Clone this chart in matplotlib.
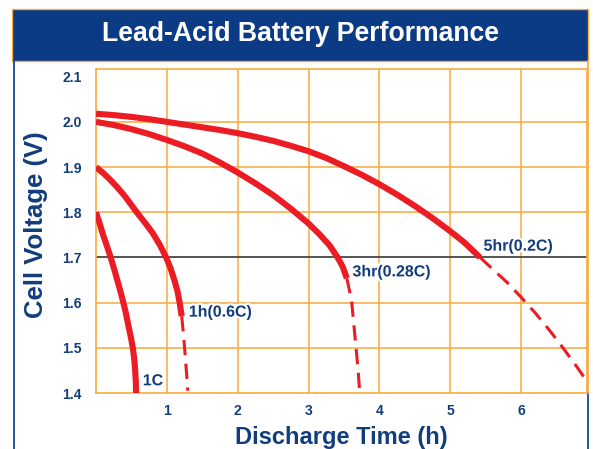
import matplotlib
matplotlib.use("Agg")
import matplotlib.pyplot as plt
from matplotlib.patches import Rectangle
from matplotlib.lines import Line2D
import matplotlib.patheffects as pe

plt.rcParams['font.family'] = ['Liberation Sans', 'DejaVu Sans']

# ---- data ----
title = "Lead-Acid Battery Performance"
x_label = "Discharge Time (h)"
y_label = "Cell Voltage (V)"
x_ticks = [1, 2, 3, 4, 5, 6]
y_ticks = [1.4, 1.5, 1.6, 1.7, 1.8, 1.9, 2.0, 2.1]
h_grid = [1.5, 1.6, 1.8, 1.9, 2.0]
cutoff_v = 1.7

c1_x = [0, 0.05, 0.1, 0.155, 0.207, 0.255, 0.3, 0.345, 0.386, 0.42, 0.456, 0.49,
        0.52, 0.54, 0.553, 0.562, 0.566]
c1_y = [1.8, 1.776, 1.75, 1.725, 1.7, 1.675, 1.65, 1.625, 1.6, 1.578, 1.55, 1.525,
        1.5, 1.475, 1.45, 1.425, 1.4]

h1_x = [0, 0.1, 0.2, 0.29, 0.4, 0.5, 0.575, 0.7, 0.8, 0.9, 0.99, 1.05, 1.106, 1.15, 1.18, 1.21]
h1_y = [1.9, 1.887, 1.872, 1.857, 1.837, 1.816, 1.8, 1.775, 1.754, 1.728, 1.70, 1.677,
        1.65, 1.625, 1.60, 1.57]
h1_dx = [1.21, 1.24, 1.265, 1.28, 1.295]
h1_dy = [1.57, 1.52, 1.47, 1.44, 1.405]

h3_x = [0, 0.25, 0.5, 0.75, 1, 1.25, 1.5, 1.75, 2, 2.25, 2.5, 2.75, 3, 3.15, 3.3,
        3.41, 3.48, 3.54]
h3_y = [2.0, 1.993, 1.984, 1.973, 1.96, 1.946, 1.93, 1.91, 1.888, 1.864, 1.838, 1.808,
        1.775, 1.752, 1.726, 1.70, 1.68, 1.654]
h3_dx = [3.54, 3.58, 3.61, 3.64, 3.67, 3.70, 3.72]
h3_dy = [1.654, 1.625, 1.6, 1.55, 1.5, 1.45, 1.405]

h5_x = [0, 0.25, 0.5, 0.75, 1, 1.25, 1.5, 1.75, 2, 2.25, 2.5, 2.75, 3, 3.25, 3.5,
        3.75, 4, 4.25, 4.5, 4.75, 5, 5.2, 5.42]
h5_y = [2.018, 2.015, 2.011, 2.006, 2.0, 1.994, 1.988, 1.982, 1.975, 1.967, 1.958,
        1.947, 1.935, 1.92, 1.902, 1.883, 1.862, 1.839, 1.814, 1.787, 1.758, 1.733, 1.70]
h5_dx = [5.42, 5.6, 5.8, 6.0, 6.2, 6.4, 6.6, 6.8, 6.95]
h5_dy = [1.70, 1.674, 1.645, 1.612, 1.577, 1.539, 1.498, 1.455, 1.421]

labels = ["1C", "1h(0.6C)", "3hr(0.28C)", "5hr(0.2C)"]
label_x = [0.66, 1.31, 3.62, 5.47]
label_y = [1.427, 1.579, 1.668, 1.725]

# ---- styling ----
BLUE = '#0b3b85'
TXT = '#123d7c'
RED = '#ec1c24'
ORANGE = '#f8aa3c'

W, H = 593, 449
fig = plt.figure(figsize=(W / 100, H / 100), dpi=100)
fig.patch.set_facecolor('white')

# title band
fig.patches.append(Rectangle((12 / W, 1 - 61 / H), (588 - 12) / W, (61 - 9) / H,
                             transform=fig.transFigure, facecolor=BLUE,
                             edgecolor=ORANGE, linewidth=1.0, zorder=0))
fig.text(300 / W, 1 - 34 / H, title, color='white', fontsize=19.2,
         fontweight='bold', ha='center', va='center')
# frame lines
fig.add_artist(Line2D([14 / W, 14 / W], [0, 1 - 61 / H], transform=fig.transFigure,
                      color=BLUE, lw=1.2))
fig.add_artist(Line2D([587.5 / W, 587.5 / W], [0, 56 / H], transform=fig.transFigure,
                      color=BLUE, lw=1.2))
fig.add_artist(Line2D([587.5 / W, 587.5 / W], [56 / H, 1 - 61 / H], transform=fig.transFigure,
                      color=ORANGE, lw=1.2))

ax = fig.add_axes([96 / W, 56 / H, (587 - 96) / W, (393 - 69) / H])
ax.set_xlim(0, 6.93)
ax.set_ylim(1.4, 2.117)

for s in ax.spines.values():
    s.set_color(ORANGE)
    s.set_linewidth(1.2)

for xv in x_ticks:
    ax.axvline(xv, color=ORANGE, lw=1.1, zorder=1)
for yv in h_grid:
    ax.axhline(yv, color=ORANGE, lw=1.1, zorder=1)
ax.axhline(cutoff_v, color='#474747', lw=1.3, zorder=2)

ax.set_xticks(x_ticks)
ax.set_yticks(y_ticks)
ax.set_yticklabels([f"{v:.1f}" for v in y_ticks])
ax.tick_params(length=0, labelsize=10, labelcolor=TXT)
ax.tick_params(axis='y', pad=10)
ax.tick_params(axis='x', pad=8)
for t in ax.get_xticklabels() + ax.get_yticklabels():
    t.set_fontweight('bold')

ax.set_xlabel(x_label, fontsize=17, fontweight='bold', color=TXT, labelpad=6)
ax.set_ylabel(y_label, fontsize=18.5, fontweight='bold', color=TXT)
ax.yaxis.set_label_coords(-0.098, 0.52)

solid_kw = dict(color=RED, lw=4.4, solid_capstyle='butt', solid_joinstyle='round', zorder=4)
dash_kw = dict(color=RED, lw=2.2, linestyle=(0, (5, 2.8)), zorder=4)

ax.plot(c1_x, c1_y, **solid_kw)
ax.plot(h1_x, h1_y, **solid_kw)
ax.plot(h1_dx, h1_dy, **dash_kw)
ax.plot(h3_x, h3_y, **solid_kw)
ax.plot(h3_dx, h3_dy, **dash_kw)
ax.plot(h5_x, h5_y, **solid_kw)
ax.plot(h5_dx, h5_dy, **dash_kw)

for lab, lx, ly in zip(labels, label_x, label_y):
    ax.text(lx, ly, lab, color=TXT, fontsize=11.5, fontweight='bold',
            ha='left', va='center', zorder=5,
            path_effects=[pe.withStroke(linewidth=3, foreground='white')])

fig.savefig("out.png", dpi=100, facecolor='white')
